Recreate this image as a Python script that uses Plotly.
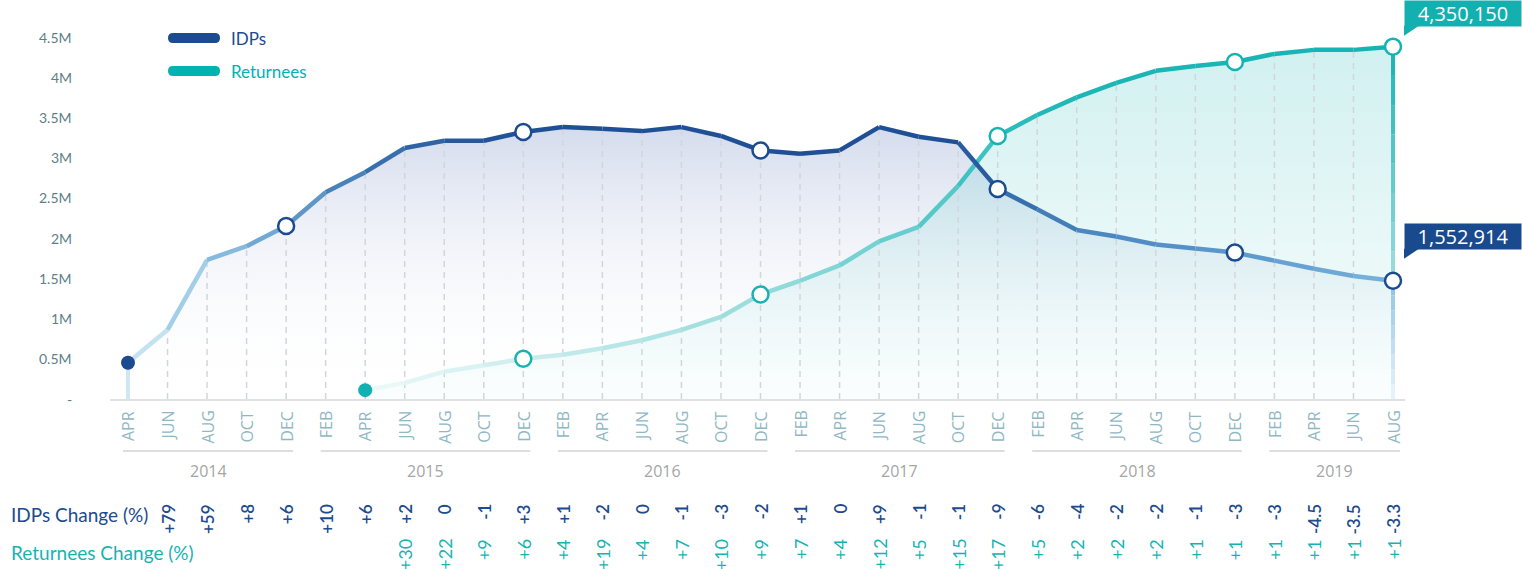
import plotly.graph_objects as go

# ---------------- data ----------------
month_labels = ["APR", "JUN", "AUG", "OCT", "DEC",
                "FEB", "APR", "JUN", "AUG", "OCT", "DEC",
                "FEB", "APR", "JUN", "AUG", "OCT", "DEC",
                "FEB", "APR", "JUN", "AUG", "OCT", "DEC",
                "FEB", "APR", "JUN", "AUG", "OCT", "DEC",
                "FEB", "APR", "JUN", "AUG"]
month_years = ["2014"] * 5 + ["2015"] * 6 + ["2016"] * 6 + ["2017"] * 6 + ["2018"] * 6 + ["2019"] * 4

idps_m = [0.45, 0.86, 1.73, 1.90, 2.15,
          2.57, 2.82, 3.12, 3.21, 3.21, 3.32,
          3.38, 3.36, 3.33, 3.38, 3.27, 3.09,
          3.05, 3.09, 3.38, 3.26, 3.19, 2.61,
          2.36, 2.10, 2.02, 1.92, 1.87, 1.82,
          1.72, 1.62, 1.53, 1.47]
returnees_m = [None, None, None, None, None,
               None, 0.11, 0.20, 0.34, 0.42, 0.50,
               0.55, 0.63, 0.73, 0.86, 1.02, 1.30,
               1.47, 1.66, 1.96, 2.14, 2.65, 3.27,
               3.53, 3.75, 3.93, 4.08, 4.14, 4.19,
               4.29, 4.34, 4.34, 4.38]

idps_change = ["", "+79", "+59", "+8", "+6",
               "+10", "+6", "+2", "0", "-1", "+3",
               "+1", "-2", "0", "-1", "-3", "-2",
               "+1", "0", "+9", "-1", "-1", "-9",
               "-6", "-4", "-2", "-2", "-1", "-3",
               "-3", "-4.5", "-3.5", "-3.3"]
returnees_change = ["", "", "", "", "",
                    "", "", "+30", "+22", "+9", "+6",
                    "+4", "+19", "+4", "+7", "+10", "+9",
                    "+7", "+4", "+12", "+5", "+15", "+17",
                    "+5", "+2", "+2", "+2", "+1", "+1",
                    "+1", "+1", "+1", "+1"]

idps_latest = 1552914
returnees_latest = 4350150

ytick_vals = [0, 0.5e6, 1e6, 1.5e6, 2e6, 2.5e6, 3e6, 3.5e6, 4e6, 4.5e6]
ytick_text = ["-", "0.5M", "1M", "1.5M", "2M", "2.5M", "3M", "3.5M", "4M", "4.5M"]

# ---------------- styling ----------------
W, H = 1522, 569
PL, PR, PT, PB = 110, 1405, 20, 399
X0_PX, X1_PX = 128, 1393          # pixel of first / last month
Y45_PX = 37                        # pixel of 4.5M

IDP_DARK = "#1c4b8f"
TEAL = "#17b3b3"
FONT = "Lato"
FONT2 = "Open Sans"
LW = 4.5

n = len(month_labels)
idx = list(range(n))
idps = [v * 1e6 for v in idps_m]
rets = [None if v is None else v * 1e6 for v in returnees_m]

ppu = (X1_PX - X0_PX) / (n - 1)
xr0 = (PL - X0_PX) / ppu
xr1 = xr0 + (PR - PL) / ppu
ymax = 4.5e6 * (PB - PT) / (PB - Y45_PX)


def xp(px):
    return (px - PL) / (PR - PL)


def yp(py):
    return (PB - py) / (PB - PT)


def x_to_px(i):
    return X0_PX + i * ppu


def v_to_py(v):
    return PB - v / ymax * (PB - PT)


def hex2rgb(h):
    h = h.lstrip("#")
    return tuple(int(h[k:k + 2], 16) for k in (0, 2, 4))


def interp_color(stops, t):
    if t <= stops[0][0]:
        return stops[0][1]
    for (a, ca), (b, cb) in zip(stops[:-1], stops[1:]):
        if a <= t <= b:
            f = (t - a) / (b - a)
            r1, g1, b1 = hex2rgb(ca)
            r2, g2, b2 = hex2rgb(cb)
            return "rgb(%d,%d,%d)" % (round(r1 + (r2 - r1) * f), round(g1 + (g2 - g1) * f), round(b1 + (b2 - b1) * f))
    return stops[-1][1]


idp_stops = [(0, "#d3eaf5"), (1, "#b6daee"), (2, "#8fc1e2"), (4, "#68a1cf"),
             (6, "#3e77b4"), (8, "#285c9e"), (10, "#1f5096"), (21, "#1f5096"),
             (22, "#3069a8"), (24, "#4a85bf"), (28, "#5c98cc"), (32, "#78b3dc")]
ret_stops = [(6, "#eef9f9"), (10, "#cdeeee"), (16, "#97dcdc"), (19, "#6fd0d0"),
             (21, "#4cc6c6"), (22, "#2fbdbd"), (24, "#1db6b6"), (32, "#17b3b3")]

fig = go.Figure()

# fills
fig.add_trace(go.Scatter(
    x=idx, y=idps, mode="none", fill="tozeroy",
    fillgradient=dict(type="vertical", start=0, stop=3.4e6,
                      colorscale=[[0, "rgba(255,255,255,0)"], [1, "rgba(140,160,205,0.38)"]]),
    hoverinfo="skip", showlegend=False))
ri = [i for i in idx if rets[i] is not None]
fig.add_trace(go.Scatter(
    x=ri, y=[rets[i] for i in ri], mode="none", fill="tozeroy",
    fillgradient=dict(type="vertical", start=0, stop=4.4e6,
                      colorscale=[[0, "rgba(26,180,180,0.02)"], [1, "rgba(26,180,180,0.20)"]]),
    hoverinfo="skip", showlegend=False))

# dashed vertical guides
gx, gy = [], []
for i in idx[1:-1]:
    top = max(idps[i], rets[i] if rets[i] is not None else 0)
    gx += [i, i, None]
    gy += [0, top, None]
fig.add_trace(go.Scatter(x=gx, y=gy, mode="lines",
                         line=dict(color="#d2d6db", width=1.5, dash="6px,5px"),
                         hoverinfo="skip", showlegend=False))

# vertical drop lines at the ends
fig.add_trace(go.Scatter(x=[0, 0], y=[0, idps[0]], mode="lines",
                         line=dict(color="#cfe7f3", width=4), hoverinfo="skip", showlegend=False))
last = n - 1
nseg = 8
for k in range(nseg):
    a = idps[last] + (rets[last] - idps[last]) * k / nseg
    b = idps[last] + (rets[last] - idps[last]) * (k + 1) / nseg
    col = interp_color([(0, "#9fdddd"), (1, "#17b3b3")], (k + 0.5) / nseg)
    fig.add_trace(go.Scatter(x=[last, last], y=[a, b], mode="lines",
                             line=dict(color=col, width=4), hoverinfo="skip", showlegend=False))
    a2 = idps[last] * k / nseg
    b2 = idps[last] * (k + 1) / nseg
    col2 = interp_color([(0, "#eaf5fb"), (1, "#8fc3e3")], (k + 0.5) / nseg)
    fig.add_trace(go.Scatter(x=[last, last], y=[a2, b2], mode="lines",
                             line=dict(color=col2, width=4), hoverinfo="skip", showlegend=False))

# gradient lines (segment by segment)
for series, stops in ((rets, ret_stops), (idps, idp_stops)):
    for i in range(n - 1):
        if series[i] is None or series[i + 1] is None:
            continue
        col = interp_color(stops, i + 0.5)
        fig.add_trace(go.Scatter(x=[i, i + 1], y=[series[i], series[i + 1]], mode="lines",
                                 line=dict(color=col, width=LW), hoverinfo="skip",
                                 showlegend=False, cliponaxis=False))

# markers
marker_idx = [i for i in idx if month_labels[i] == "DEC"] + [last]
first_ret = ri[0]
fig.add_trace(go.Scatter(x=[0], y=[idps[0]], mode="markers",
                         marker=dict(size=14, color=IDP_DARK), hoverinfo="skip",
                         showlegend=False, cliponaxis=False))
fig.add_trace(go.Scatter(x=[first_ret], y=[rets[first_ret]], mode="markers",
                         marker=dict(size=14, color="#12b0b0"), hoverinfo="skip",
                         showlegend=False, cliponaxis=False))
fig.add_trace(go.Scatter(x=marker_idx, y=[idps[i] for i in marker_idx], mode="markers",
                         marker=dict(size=16, color="white", line=dict(color=IDP_DARK, width=2.5)),
                         hoverinfo="skip", showlegend=False, cliponaxis=False))
rm = [i for i in marker_idx if rets[i] is not None]
fig.add_trace(go.Scatter(x=rm, y=[rets[i] for i in rm], mode="markers",
                         marker=dict(size=16, color="white", line=dict(color=TEAL, width=2.5)),
                         hoverinfo="skip", showlegend=False, cliponaxis=False))

annotations = []
shapes = []

# y tick labels
for v, t in zip(ytick_vals, ytick_text):
    annotations.append(dict(x=xp(74), xref="paper", y=v, yref="y", text=t, showarrow=False,
                            xanchor="right", yanchor="middle",
                            font=dict(family=FONT, size=14, color="#5d7f87")))

# month labels
for i, m in enumerate(month_labels):
    annotations.append(dict(x=i, xref="x", y=yp(409), yref="paper", text=m, showarrow=False,
                            textangle=-90, xanchor="center", yanchor="top",
                            font=dict(family=FONT2, size=16, color="#8fb8c4")))

# year groups
years_order = []
for y in month_years:
    if y not in years_order:
        years_order.append(y)
for y in years_order:
    ids = [i for i in idx if month_years[i] == y]
    a, b = ids[0], ids[-1]
    shapes.append(dict(type="line", xref="paper", yref="paper",
                       x0=xp(x_to_px(a) - 5), x1=xp(x_to_px(b) + 7), y0=yp(451), y1=yp(451),
                       line=dict(color="#dedede", width=2)))
    annotations.append(dict(x=xp((x_to_px(a) + x_to_px(b)) / 2 + 1), xref="paper", y=yp(471), yref="paper",
                            text=y, showarrow=False, xanchor="center", yanchor="middle",
                            font=dict(family=FONT2, size=16, color="#a5a5a5")))

# change rows
annotations.append(dict(x=xp(9), xref="paper", y=yp(514), yref="paper", text="IDPs Change (%)",
                        showarrow=False, xanchor="left", yanchor="middle",
                        font=dict(family=FONT, size=19, color=IDP_DARK)))
annotations.append(dict(x=xp(9), xref="paper", y=yp(552), yref="paper", text="Returnees Change (%)",
                        showarrow=False, xanchor="left", yanchor="middle",
                        font=dict(family=FONT, size=19, color=TEAL)))
for i in idx:
    if idps_change[i]:
        annotations.append(dict(x=i, xref="x", y=yp(502), yref="paper", text=idps_change[i],
                                showarrow=False, textangle=-90, xanchor="center", yanchor="top",
                                font=dict(family=FONT, size=17, color=IDP_DARK, weight=600)))
    if returnees_change[i]:
        annotations.append(dict(x=i, xref="x", y=yp(537), yref="paper", text=returnees_change[i],
                                showarrow=False, textangle=-90, xanchor="center", yanchor="top",
                                font=dict(family=FONT, size=18, color=TEAL)))

# legend
for ly, col, name in ((38, IDP_DARK, "IDPs"), (71, "#00b2b2", "Returnees")):
    shapes.append(dict(type="path", xref="paper", yref="paper", xsizemode="pixel", ysizemode="pixel",
                       xanchor=xp(168), yanchor=yp(ly),
                       path="M 5,-5 L 47,-5 Q 52,-5 52,0 Q 52,5 47,5 L 5,5 Q 0,5 0,0 Q 0,-5 5,-5 Z",
                       fillcolor=col, line=dict(width=0)))
    annotations.append(dict(x=xp(229), xref="paper", y=yp(ly), yref="paper", text=name,
                            showarrow=False, xanchor="left", yanchor="middle",
                            font=dict(family=FONT, size=17, color=col)))

# callouts
for val, num, col, up in ((rets[last], returnees_latest, "#14b0b0", 20),
                          (idps[last], idps_latest, "#1a4a8e", 31)):
    px = x_to_px(last)
    py = v_to_py(val)
    shapes.append(dict(type="path", xref="paper", yref="paper", xsizemode="pixel", ysizemode="pixel",
                       xanchor=xp(px), yanchor=yp(py),
                       path="M 11,%d L 26,%d L 11,%d Z" % (up + 1, up + 1, up - 9),
                       fillcolor=col, line=dict(width=0)))
    annotations.append(dict(x=last, xref="x", y=val, yref="y", text=f"{num:,}", showarrow=False,
                            xanchor="left", yanchor="bottom", xshift=11, yshift=up,
                            width=116, height=25, borderpad=0, bgcolor=col, align="center",
                            font=dict(family=FONT2, size=20, color="white")))

fig.update_layout(
    width=W, height=H,
    margin=dict(l=PL, r=W - PR, t=PT, b=H - PB, pad=0),
    paper_bgcolor="white", plot_bgcolor="white",
    xaxis=dict(range=[xr0, xr1], showgrid=False, zeroline=False, showticklabels=False,
               showline=True, linecolor="#dfe1e3", linewidth=2, fixedrange=True),
    yaxis=dict(range=[0, ymax], showgrid=False, zeroline=False, showticklabels=False,
               showline=False, fixedrange=True),
    annotations=annotations, shapes=shapes, showlegend=False, hovermode=False,
)

fig.write_html("out.html", config={"displayModeBar": False},
               post_script="document.body.style.margin='0';document.body.style.overflow='hidden';")
